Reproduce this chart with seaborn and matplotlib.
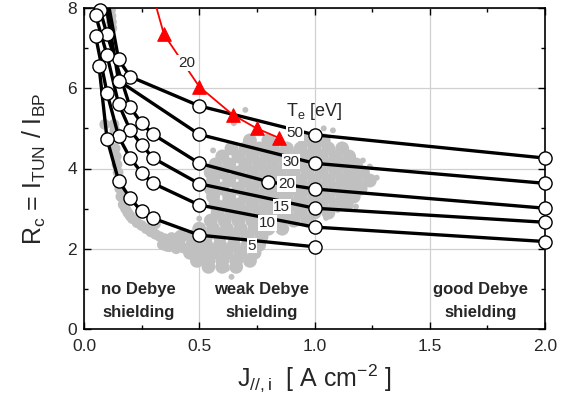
import matplotlib
matplotlib.use("Agg")
import numpy as np
import pandas as pd
import matplotlib.pyplot as plt
import seaborn as sns
from matplotlib.ticker import MultipleLocator

# ---------------- data ----------------
te_values = ["50", "30", "20", "15", "10", "5"]

j_50 = [0.09, 0.15, 0.20, 0.50, 1.00, 2.00]
r_50 = [8.60, 6.72, 6.29, 5.56, 4.84, 4.26]
j_30 = [0.08, 0.15, 0.50, 1.00, 2.00]
r_30 = [8.60, 6.19, 4.85, 4.13, 3.63]
j_20 = [0.07, 0.10, 0.20, 0.25, 0.30, 0.50, 0.80, 1.00, 2.00]
r_20 = [7.94, 7.34, 5.53, 5.13, 4.85, 4.13, 3.67, 3.49, 3.01]
j_15 = [0.05, 0.10, 0.15, 0.20, 0.25, 0.30, 0.50, 1.00, 2.00]
r_15 = [7.83, 6.82, 5.61, 4.96, 4.59, 4.26, 3.62, 3.01, 2.66]
j_10 = [0.05, 0.10, 0.15, 0.20, 0.25, 0.30, 0.50, 1.00, 2.00]
r_10 = [7.31, 5.88, 4.80, 4.26, 3.90, 3.63, 3.09, 2.54, 2.18]
j_5 = [0.065, 0.10, 0.15, 0.20, 0.25, 0.30, 0.50, 1.00]
r_5 = [6.56, 4.73, 3.70, 3.26, 2.93, 2.76, 2.34, 2.05]

# red curve (Te = 20 eV, other model)
j_red = [0.305, 0.347, 0.50, 0.645, 0.749, 0.847]
r_red = [8.20, 7.34, 6.04, 5.34, 5.00, 4.76]
red_marked = [False, True, True, True, True, True]

# experimental data (grey dots), read off the picture
# dense core of the cloud
cloud_x = [
    0.72, 0.80, 0.96, 1.04,
    0.64, 0.70, 0.76, 0.82, 0.88, 0.94, 1.00, 1.06, 1.12,
    0.60, 0.67, 0.73, 0.79, 0.85, 0.91, 0.97, 1.03, 1.09, 1.15,
    0.57, 0.63, 0.70, 0.76, 0.82, 0.88, 0.94, 1.00, 1.06, 1.12, 1.18,
    0.55, 0.60, 0.67, 0.73, 0.79, 0.85, 0.91, 0.97, 1.03, 1.09, 1.15, 1.21,
    0.56, 0.63, 0.70, 0.76, 0.82, 0.88, 0.94, 1.00, 1.06, 1.12, 1.18, 1.24,
    0.55, 0.60, 0.67, 0.73, 0.79, 0.85, 0.91, 0.97, 1.03, 1.09, 1.15, 1.20,
    0.56, 0.63, 0.70, 0.76, 0.82, 0.88, 0.94, 1.00, 1.06, 1.12, 1.17,
    0.57, 0.62, 0.67, 0.73, 0.79, 0.85, 0.91, 0.97, 1.03, 1.09, 1.14,
    0.58, 0.64, 0.70, 0.76, 0.82, 0.88, 0.94, 1.00, 1.06,
    0.55, 0.61, 0.67, 0.73, 0.79, 0.85, 0.91, 0.97,
    0.50, 0.56, 0.62, 0.68, 0.74, 0.80, 0.86,
    0.42, 0.47, 0.53, 0.59, 0.65, 0.71, 0.77,
    0.36, 0.41, 0.47, 0.53, 0.59, 0.65, 0.71, 0.76,
    0.46, 0.51, 0.56, 0.62, 0.68, 0.74,
    0.49, 0.54, 0.60, 0.66, 0.72,
    0.54, 0.60, 0.66,
]
cloud_y = [
    4.70, 4.70, 4.70, 4.70,
    4.50, 4.50, 4.50, 4.50, 4.50, 4.50, 4.50, 4.50, 4.50,
    4.30, 4.30, 4.30, 4.30, 4.30, 4.30, 4.30, 4.30, 4.30, 4.30,
    4.10, 4.10, 4.10, 4.10, 4.10, 4.10, 4.10, 4.10, 4.10, 4.10, 4.10,
    3.90, 3.90, 3.90, 3.90, 3.90, 3.90, 3.90, 3.90, 3.90, 3.90, 3.90, 3.90,
    3.70, 3.70, 3.70, 3.70, 3.70, 3.70, 3.70, 3.70, 3.70, 3.70, 3.70, 3.70,
    3.50, 3.50, 3.50, 3.50, 3.50, 3.50, 3.50, 3.50, 3.50, 3.50, 3.50, 3.50,
    3.30, 3.30, 3.30, 3.30, 3.30, 3.30, 3.30, 3.30, 3.30, 3.30, 3.30,
    3.10, 3.10, 3.10, 3.10, 3.10, 3.10, 3.10, 3.10, 3.10, 3.10, 3.10,
    2.90, 2.90, 2.90, 2.90, 2.90, 2.90, 2.90, 2.90, 2.90,
    2.70, 2.70, 2.70, 2.70, 2.70, 2.70, 2.70, 2.70,
    2.50, 2.50, 2.50, 2.50, 2.50, 2.50, 2.50,
    2.30, 2.30, 2.30, 2.30, 2.30, 2.30, 2.30,
    2.10, 2.10, 2.10, 2.10, 2.10, 2.10, 2.10, 2.10,
    1.90, 1.90, 1.90, 1.90, 1.90, 1.90,
    1.70, 1.70, 1.70, 1.70, 1.70,
    1.55, 1.55, 1.55,
]
# streak of the cloud at low current density
streak_x = [
    0.115, 0.117, 0.119, 0.121,
    0.09, 0.13, 0.134, 0.135, 0.14, 0.143, 0.148, 0.155, 0.16, 0.17, 0.18,
    0.19, 0.20, 0.21, 0.23, 0.25, 0.27, 0.29, 0.31, 0.33, 0.35, 0.38, 0.31,
    0.34, 0.37, 0.40, 0.43, 0.46,
]
streak_y = [
    7.95, 7.80, 7.65, 7.50,
    5.10, 5.10, 4.95, 4.50, 4.30, 4.10, 3.90, 3.50, 3.30, 3.10, 3.00,
    2.90, 2.82, 2.75, 2.65, 2.58, 2.50, 2.42, 2.36, 2.30, 2.25, 2.28, 2.62,
    2.10, 2.05, 2.00, 2.02, 1.98,
]
# isolated grey dots
stray_x = [0.62, 0.64, 1.04, 1.14, 1.21, 1.27, 0.70, 0.65, 1.10, 1.05,
           1.08, 1.24, 1.18, 0.56, 0.50]
stray_y = [1.50, 1.30, 5.00, 4.39, 4.20, 3.77, 5.46, 5.13, 2.97, 2.77,
           4.95, 4.05, 3.05, 4.45, 2.75]

x_ticks = [0.0, 0.5, 1.0, 1.5, 2.0]
y_ticks = [0, 2, 4, 6, 8]

# ---------------- styling ----------------
sns.set_style("ticks")
plt.rcParams["font.family"] = ["Liberation Sans", "DejaVu Sans"]
plt.rcParams["mathtext.fontset"] = "custom"
plt.rcParams["mathtext.rm"] = "Liberation Sans"
plt.rcParams["mathtext.it"] = "Liberation Sans"
plt.rcParams["mathtext.bf"] = "Liberation Sans:bold"

fig = plt.figure(figsize=(5.70, 4.01), dpi=100)
ax = fig.add_axes([84 / 570, 72 / 401, 461 / 570, 321 / 401])

ax.grid(True, which="major", color="#d0d0d0", lw=0.9, zorder=0)
ax.set_axisbelow(True)

grey = "#c0c0c0"
sns.scatterplot(x=cloud_x, y=cloud_y, ax=ax, color=grey, s=100,
                edgecolor="none", linewidth=0, zorder=2, legend=False)
sns.scatterplot(x=streak_x, y=streak_y, ax=ax, color=grey, s=60,
                edgecolor="none", linewidth=0, zorder=2, legend=False)
sns.scatterplot(x=stray_x, y=stray_y, ax=ax, color=grey, s=18,
                edgecolor="none", linewidth=0, zorder=2, legend=False)

curves = {"50": (j_50, r_50), "30": (j_30, r_30), "20": (j_20, r_20),
          "15": (j_15, r_15), "10": (j_10, r_10), "5": (j_5, r_5)}
for te in te_values:
    jj, rr = curves[te]
    df = pd.DataFrame({"J": jj, "R": rr})
    sns.lineplot(data=df, x="J", y="R", ax=ax, sort=False, estimator=None,
                 color="black", lw=2.4, zorder=4, legend=False)
    vis = df[df["R"] <= 8.0]
    sns.scatterplot(data=vis, x="J", y="R", ax=ax, marker="o", s=90,
                    color="white", edgecolor="black", linewidth=1.0,
                    zorder=5, legend=False, clip_on=False)

red = pd.DataFrame({"J": j_red, "R": r_red})
sns.lineplot(data=red, x="J", y="R", ax=ax, sort=False, estimator=None,
             color="red", lw=1.3, zorder=6, legend=False)
redm = red[red_marked]
sns.scatterplot(data=redm, x="J", y="R", ax=ax, color="red", marker="^",
                s=95, edgecolor="red", zorder=7, legend=False)

# curve labels
label_pos = {"50": (0.915, 4.88), "30": (0.898, 4.17), "20": (0.879, 3.61),
             "15": (0.858, 3.05), "10": (0.795, 2.64), "5": (0.727, 2.08)}
for te, (lx, ly) in label_pos.items():
    ax.text(lx, ly, te, fontsize=11, ha="center", va="center", zorder=8,
            bbox=dict(facecolor="white", edgecolor="none", pad=0.6))
ax.text(0.445, 6.63, "20", fontsize=11, ha="center", va="center", zorder=8,
        bbox=dict(facecolor="white", edgecolor="none", pad=0.6))
ax.text(1.0, 5.42, r"T$_e$ [eV]", fontsize=13, ha="center", va="center",
        zorder=8)

# regime texts
for tx, txt in [(0.235, "no Debye\nshielding"), (0.77, "weak Debye\nshielding"),
                (1.72, "good Debye\nshielding")]:
    ax.text(tx, 0.70, txt, fontsize=12, fontweight="bold", ha="center",
            va="center", linespacing=1.6, zorder=8)

ax.set_xlim(0, 2.0)
ax.set_ylim(0, 8)
ax.set_xticks(x_ticks)
ax.set_yticks(y_ticks)
ax.set_xticklabels([f"{v:.1f}" for v in x_ticks])
ax.set_yticklabels([str(v) for v in y_ticks])
ax.xaxis.set_minor_locator(MultipleLocator(0.25))
ax.yaxis.set_minor_locator(MultipleLocator(1))
ax.tick_params(which="both", direction="in", top=True, right=True,
               labelsize=12.5, width=1.0, color="black")
ax.tick_params(which="major", length=5)
ax.tick_params(which="minor", length=3)
ax.tick_params(axis="x", pad=7)
ax.tick_params(axis="y", pad=5)
for sp in ax.spines.values():
    sp.set_visible(True)
    sp.set_linewidth(1.2)
    sp.set_color("black")

ax.set_xlabel(r"J$_{//,i}$  [ A cm$^{-2}$ ]", fontsize=18, labelpad=6)
ax.set_ylabel(r"R$_c$ = I$_{TUN}$ / I$_{BP}$", fontsize=18, labelpad=14)

fig.savefig("out.png", dpi=100)
